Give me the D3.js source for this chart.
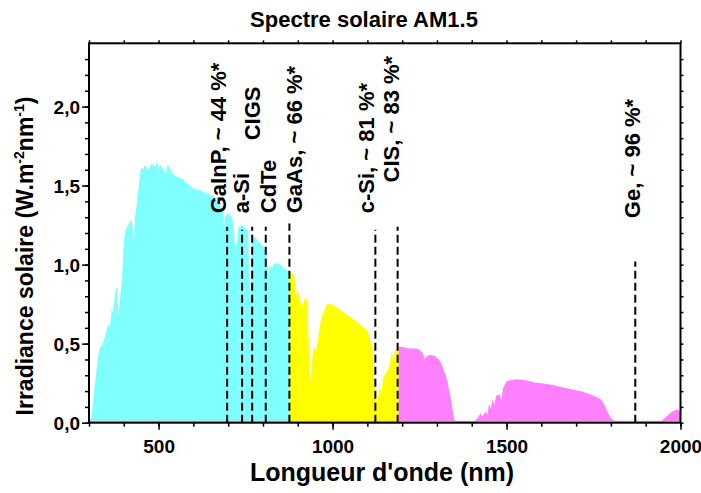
<!DOCTYPE html>
<html>
<head>
<meta charset="utf-8">
<script src="https://cdn.jsdelivr.net/npm/d3@7"></script>
<style>
  body { margin: 0; background: #fff; }
  svg { display: block; font-family: "Liberation Sans", Arial, sans-serif; font-weight: bold; }
</style>
</head>
<body>
<div id="chart"></div>
<script>
"use strict";

// spectre AM1.5 (nm, W.m-2.nm-1)
var wavelengths = [300,305,310,315,320,325,330,340,350,355,360,365,370,375,380,385,390,395,400,405,410,420,425,428,432,437,442,447,450,455,460,470,480,490,495,500,505,515,520,525,530,540,550,560,570,580,590,600,620,640,650,660,670,680,685,687,690,700,710,715,720,725,730,740,750,758,760,764,768,775,790,800,810,815,820,825,830,840,850,860,870,880,890,895,900,905,912,920,926,930,933,936,940,945,950,955,960,965,970,975,980,990,1000,1010,1030,1050,1070,1090,1100,1108,1114,1118,1122,1128,1135,1140,1145,1150,1160,1165,1170,1175,1180,1188,1200,1220,1240,1250,1260,1265,1270,1280,1295,1305,1310,1315,1320,1325,1330,1335,1340,1345,1350,1355,1400,1410,1420,1425,1430,1440,1445,1450,1455,1460,1465,1470,1480,1485,1490,1500,1510,1530,1550,1570,1580,1600,1630,1660,1690,1720,1750,1770,1780,1790,1800,1810,1820,1940,1950,1960,1975,1990,1995,2000];
var irradiance = [0,0.02,0.10,0.20,0.30,0.40,0.47,0.50,0.58,0.62,0.60,0.72,0.70,0.82,0.86,0.68,0.80,0.92,1.15,1.22,1.24,1.28,1.26,1.05,1.30,1.38,1.48,1.58,1.62,1.60,1.63,1.60,1.64,1.62,1.65,1.61,1.63,1.60,1.56,1.63,1.62,1.58,1.56,1.55,1.54,1.52,1.50,1.48,1.47,1.45,1.44,1.43,1.40,1.36,1.34,1.18,1.30,1.33,1.30,1.26,1.10,1.14,1.24,1.25,1.23,1.22,0.92,0.80,1.15,1.18,1.14,1.12,1.07,0.94,1.00,0.97,1.00,1.01,1.00,0.98,0.96,0.95,0.93,0.80,0.85,0.78,0.74,0.78,0.79,0.60,0.40,0.27,0.35,0.49,0.45,0.48,0.56,0.63,0.68,0.70,0.74,0.755,0.745,0.73,0.70,0.67,0.64,0.60,0.58,0.53,0.48,0.30,0.20,0.12,0.24,0.18,0.28,0.30,0.34,0.38,0.45,0.40,0.46,0.48,0.48,0.47,0.47,0.46,0.44,0.40,0.42,0.43,0.42,0.40,0.385,0.36,0.33,0.30,0.26,0.20,0.15,0.08,0.02,0.005,0.002,0.01,0.04,0.06,0.04,0.07,0.05,0.12,0.09,0.15,0.11,0.17,0.18,0.14,0.22,0.26,0.27,0.275,0.27,0.26,0.255,0.25,0.24,0.225,0.21,0.195,0.17,0.15,0.12,0.07,0.03,0.01,0.003,0.003,0.02,0.04,0.07,0.085,0.08,0.06];

// bandes de couleur : limites en nm
var bandEdges = [300, 875, 1190, 2000];
var bandColors = ["#80ffff", "#ffff00", "#ff80ff"];

// cellules : nom, longueur d'onde de coupure, hauteur du trait
var cellNames = ["GaInP, ~ 44 %*", "a-Si", "CIGS", "CdTe", "GaAs, ~ 66 %*", "c-Si, ~ 81 %*", "CIS, ~ 83 %*", "Ge, ~ 96 %*"];
var cellCutoff = [697, 740, 769, 808, 876, 1123, 1187, 1870];
var cellLineTop = [1.24, 1.22, 1.24, 1.24, 1.26, 1.22, 1.24, 1.02];
// position du texte (nm du pied de lettre, valeur du bas du texte)
var cellLabelX = [695, 760, 792, 838, 913, 1120, 1192, 1885];
var cellLabelY = [1.325, 1.325, 1.786, 1.325, 1.325, 1.325, 1.52, 1.294];

var xMajor = [500, 1000, 1500, 2000];
var yMajor = [0, 0.5, 1.0, 1.5, 2.0];

var width = 701, height = 493;
var margin = {top: 43.3, right: 20.5, bottom: 70.3, left: 89};

var svg = d3.select("#chart").append("svg")
    .attr("width", width)
    .attr("height", height);

var x = d3.scaleLinear().domain([300, 2000]).range([margin.left, width - margin.right]);
var y = d3.scaleLinear().domain([0, 2.4]).range([height - margin.bottom, margin.top]);

var spectrum = wavelengths.map(function(w, i){ return {w: w, v: irradiance[i]}; });

var area = d3.area()
    .x(function(d){ return x(d.w); })
    .y0(y(0))
    .y1(function(d){ return y(d.v); });

//one clipped copy of the area per colour band
var defs = svg.append("defs");
bandColors.forEach(function(c, i){
    defs.append("clipPath")
        .attr("id", "band" + i)
        .append("rect")
            .attr("x", x(bandEdges[i]))
            .attr("y", margin.top)
            .attr("width", x(bandEdges[i + 1]) - x(bandEdges[i]))
            .attr("height", y(0) - margin.top);

    svg.append("path")
        .datum(spectrum)
        .attr("clip-path", "url(#band" + i + ")")
        .attr("fill", c)
        .attr("d", area);
});

//thin baseline of the plotted series
svg.append("line")
    .attr("x1", x(300)).attr("x2", x(2000))
    .attr("y1", y(0) - 1).attr("y2", y(0) - 1)
    .attr("stroke", "#f4a6b4")
    .attr("stroke-width", 2);

// dashed cut-off lines
svg.append("g").selectAll("line")
    .data(cellCutoff)
    .enter().append("line")
        .attr("x1", function(d){ return x(d); })
        .attr("x2", function(d){ return x(d); })
        .attr("y1", y(0))
        .attr("y2", function(d, i){ return y(cellLineTop[i]); })
        .attr("stroke", "#000")
        .attr("stroke-width", 2)
        .attr("stroke-dasharray", "8,4");

svg.append("g").selectAll("text")
    .data(cellNames)
    .enter().append("text")
        .attr("transform", function(d, i){
            return "translate(" + x(cellLabelX[i]) + "," + y(cellLabelY[i]) + ") rotate(-90)";
        })
        .attr("font-size", 22)
        .text(function(d){ return d; });

// axes
var fmt = function(d){ return d3.format(".1f")(d).replace(".", ","); };

var xAxis = svg.append("g")
    .attr("transform", "translate(0," + y(0) + ")")
    .call(d3.axisBottom(x).tickValues(xMajor).tickSize(7).tickFormat(d3.format("d")));
var xMinor = svg.append("g")
    .attr("transform", "translate(0," + y(0) + ")")
    .call(d3.axisBottom(x).tickValues(d3.range(300, 2001, 100)).tickSize(4).tickFormat(""));

var yAxis = svg.append("g")
    .attr("transform", "translate(" + margin.left + ",0)")
    .call(d3.axisLeft(y).tickValues(yMajor).tickSize(7).tickFormat(fmt));
var yMinor = svg.append("g")
    .attr("transform", "translate(" + margin.left + ",0)")
    .call(d3.axisLeft(y).tickValues(d3.range(0, 24).map(function(d){ return d / 10; })).tickSize(4).tickFormat(""));

var xTop = svg.append("g")
    .attr("transform", "translate(0," + margin.top + ")")
    .call(d3.axisTop(x).tickValues(d3.range(300, 2001, 100)).tickSize(3).tickFormat(""));
var yRight = svg.append("g")
    .attr("transform", "translate(" + (width - margin.right) + ",0)")
    .call(d3.axisRight(y).tickValues(d3.range(0, 24).map(function(d){ return d / 10; })).tickSize(3).tickFormat(""));

[xAxis, xMinor, yAxis, yMinor, xTop, yRight].forEach(function(g){
    g.select(".domain").remove();
    g.selectAll(".tick line").attr("stroke", "#000").attr("stroke-width", 1.5);
});
xAxis.selectAll("text").attr("font-size", 19).attr("font-family", null).attr("fill", "#000").attr("dy", "1.05em");
yAxis.selectAll("text").attr("font-size", 19).attr("font-family", null).attr("fill", "#000").attr("dy", "0.35em").attr("x", -9);

//frame
svg.append("rect")
    .attr("x", margin.left)
    .attr("y", margin.top)
    .attr("width", width - margin.left - margin.right)
    .attr("height", y(0) - margin.top)
    .attr("fill", "none")
    .attr("stroke", "#000")
    .attr("stroke-width", 2);

// titles
svg.append("text")
    .attr("x", 364).attr("y", 27)
    .attr("text-anchor", "middle")
    .attr("font-size", 22)
    .text("Spectre solaire AM1.5");

svg.append("text")
    .attr("x", 382).attr("y", 481)
    .attr("text-anchor", "middle")
    .attr("font-size", 25)
    .text("Longueur d'onde (nm)");

var yLabel = svg.append("text")
    .attr("transform", "translate(33,256) rotate(-90)")
    .attr("text-anchor", "middle")
    .attr("font-size", 23);
yLabel.append("tspan").text("Irradiance solaire (W.m");
yLabel.append("tspan").attr("font-size", 14).attr("dy", -9).text("-2");
yLabel.append("tspan").attr("dy", 9).text("nm");
yLabel.append("tspan").attr("font-size", 14).attr("dy", -9).text("-1");
yLabel.append("tspan").attr("dy", 9).text(")");
</script>
</body>
</html>
